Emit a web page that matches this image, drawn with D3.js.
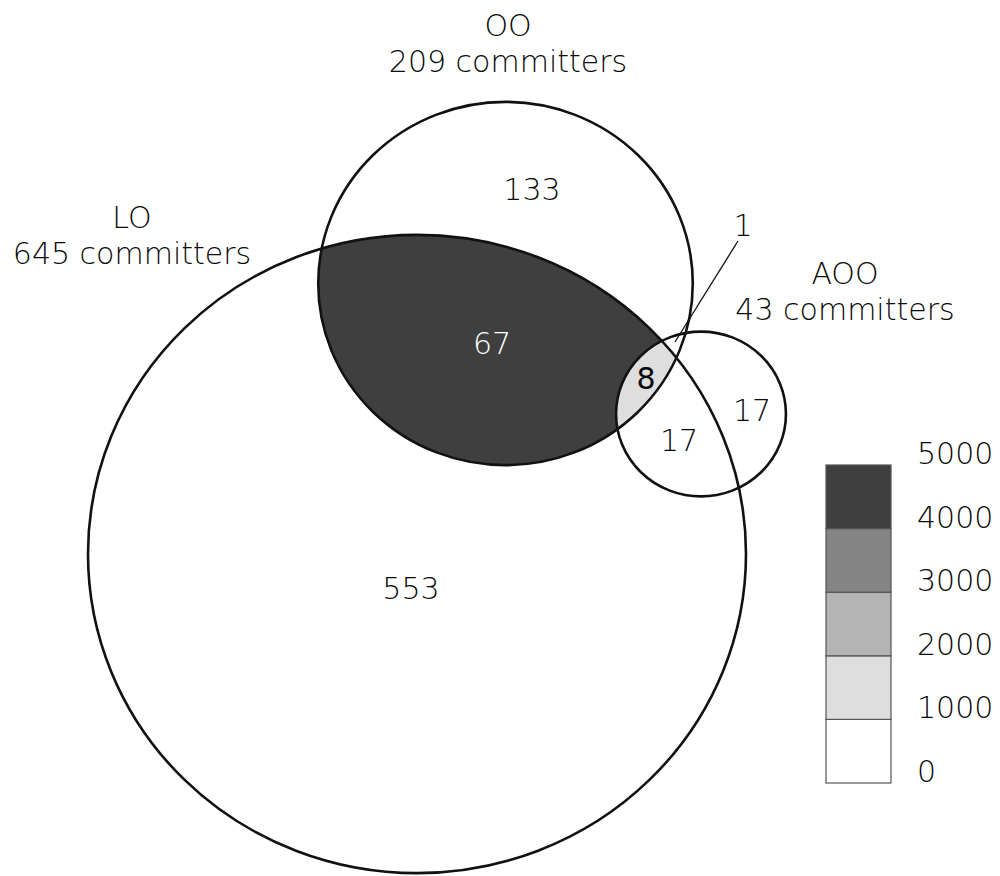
<!DOCTYPE html>
<html>
<head>
<meta charset="utf-8">
<title>Committers Venn</title>
<style>
  body { margin: 0; background: #fff; }
  text { font-family: "DejaVu Sans", sans-serif; font-weight: 200; fill: #0a0a0a; }
</style>
</head>
<body>
<main></main>
<script src="https://cdnjs.cloudflare.com/ajax/libs/d3/7.8.5/d3.min.js"></script>
<script>
// sets and their committer counts
var setNames = ["LO", "OO", "AOO"];
var setCounts = [645, 209, 43];

// region labels (exclusive counts)
var regionNames = ["LO only", "OO only", "AOO only", "LO∩OO", "LO∩OO∩AOO", "LO∩AOO", "OO∩AOO"];
var regionCounts = [553, 133, 17, 67, 8, 17, 1];
var shadeNames = ["LO∩OO", "LO∩OO∩AOO"];
var shadeValues = [4500, 1500];

// legend
var legendTicks = [0, 1000, 2000, 3000, 4000, 5000];

var width = 1000, height = 876;
var squash = 0.97;   // picture is slightly squeezed vertically

var svg = d3.select("main").append("svg")
    .attr("width", width)
    .attr("height", height);

// circle area ~ committers
var r = d3.scaleSqrt().domain([0, 645]).range([0, 329]);

var centers = { LO: [417, 554], OO: [505.5, 283.5], AOO: [701, 414] };

var sets = setNames.map(function (n, i) {
    return { name: n, count: setCounts[i], cx: centers[n][0], cy: centers[n][1],
             rx: r(setCounts[i]), ry: r(setCounts[i]) * squash };
});
var byName = {};
sets.forEach(function (s) { byName[s.name] = s; });

var color = d3.scaleThreshold()
    .domain([1000, 2000, 3000, 4000])
    .range(["#ffffff", "#dedede", "#b4b4b4", "#848484", "#3f3f3f"]);

// clip paths
var defs = svg.append("defs");
function addClip(id, s) {
    defs.append("clipPath").attr("id", id)
      .append("ellipse").attr("cx", s.cx).attr("cy", s.cy).attr("rx", s.rx).attr("ry", s.ry);
}
addClip("clipLO", byName.LO);
addClip("clipOO", byName.OO);

// LO ∩ OO
svg.append("g").attr("clip-path", "url(#clipLO)")
  .append("ellipse")
    .attr("cx", byName.OO.cx).attr("cy", byName.OO.cy)
    .attr("rx", byName.OO.rx).attr("ry", byName.OO.ry)
    .attr("fill", color(shadeValues[0]));

// LO ∩ OO ∩ AOO
svg.append("g").attr("clip-path", "url(#clipLO)")
  .append("g").attr("clip-path", "url(#clipOO)")
  .append("ellipse")
    .attr("cx", byName.AOO.cx).attr("cy", byName.AOO.cy)
    .attr("rx", byName.AOO.rx).attr("ry", byName.AOO.ry)
    .attr("fill", color(shadeValues[1]));

// outlines
svg.selectAll("ellipse.set")
    .data(sets)
    .enter()
    .append("ellipse")
    .attr("class", "set")
    .attr("cx", function (d) { return d.cx; })
    .attr("cy", function (d) { return d.cy; })
    .attr("rx", function (d) { return d.rx; })
    .attr("ry", function (d) { return d.ry; })
    .attr("fill", "none")
    .attr("stroke", "#111")
    .attr("stroke-width", 2.6);

// set titles
var titlePos = { LO: [132, 228], OO: [508, 36], AOO: [845, 284] };
sets.forEach(function (s) {
    var p = titlePos[s.name];
    var t = svg.append("text")
        .attr("x", p[0]).attr("y", p[1])
        .attr("text-anchor", "middle")
        .attr("font-size", "30px");
    t.append("tspan").attr("x", p[0]).text(s.name);
    t.append("tspan").attr("x", p[0]).attr("dy", 36).text(s.count + " committers");
});

// region counts
var regionPos = [[411, 599], [532, 200], [752, 421], [492, 354], [646, 389], [679, 451], [743, 236]];
svg.selectAll("text.region")
    .data(regionCounts)
    .enter()
    .append("text")
    .attr("class", "region")
    .attr("x", function (d, i) { return regionPos[i][0]; })
    .attr("y", function (d, i) { return regionPos[i][1]; })
    .attr("text-anchor", "middle")
    .attr("font-size", "30px")
    .style("fill", function (d, i) { return regionNames[i] === "LO∩OO" ? "#ffffff" : null; })
    .style("font-weight", function (d, i) { return regionNames[i] === "LO∩OO∩AOO" ? "normal" : null; })
    .text(function (d) { return d; });

// leader line for the "1" region
svg.append("line")
    .attr("x1", 738).attr("y1", 241)
    .attr("x2", 675).attr("y2", 342)
    .attr("stroke", "#111")
    .attr("stroke-width", 1.3);

// legend
var ly = d3.scaleLinear().domain([0, 5000]).range([783, 465]);
var lx = 826, lw = 65;
var bins = d3.pairs(legendTicks);
svg.selectAll("rect.bin")
    .data(bins)
    .enter()
    .append("rect")
    .attr("class", "bin")
    .attr("x", lx)
    .attr("y", function (d) { return ly(d[1]); })
    .attr("width", lw)
    .attr("height", function (d) { return ly(d[0]) - ly(d[1]); })
    .attr("fill", function (d) { return color((d[0] + d[1]) / 2); })
    .attr("stroke", "#555")
    .attr("stroke-width", 1.2);

svg.selectAll("text.tick")
    .data(legendTicks)
    .enter()
    .append("text")
    .attr("class", "tick")
    .attr("x", 917)
    .attr("y", function (d) { return ly(d) - 1; })
    .attr("font-size", "30px")
    .text(function (d) { return d; });
</script>
</body>
</html>
